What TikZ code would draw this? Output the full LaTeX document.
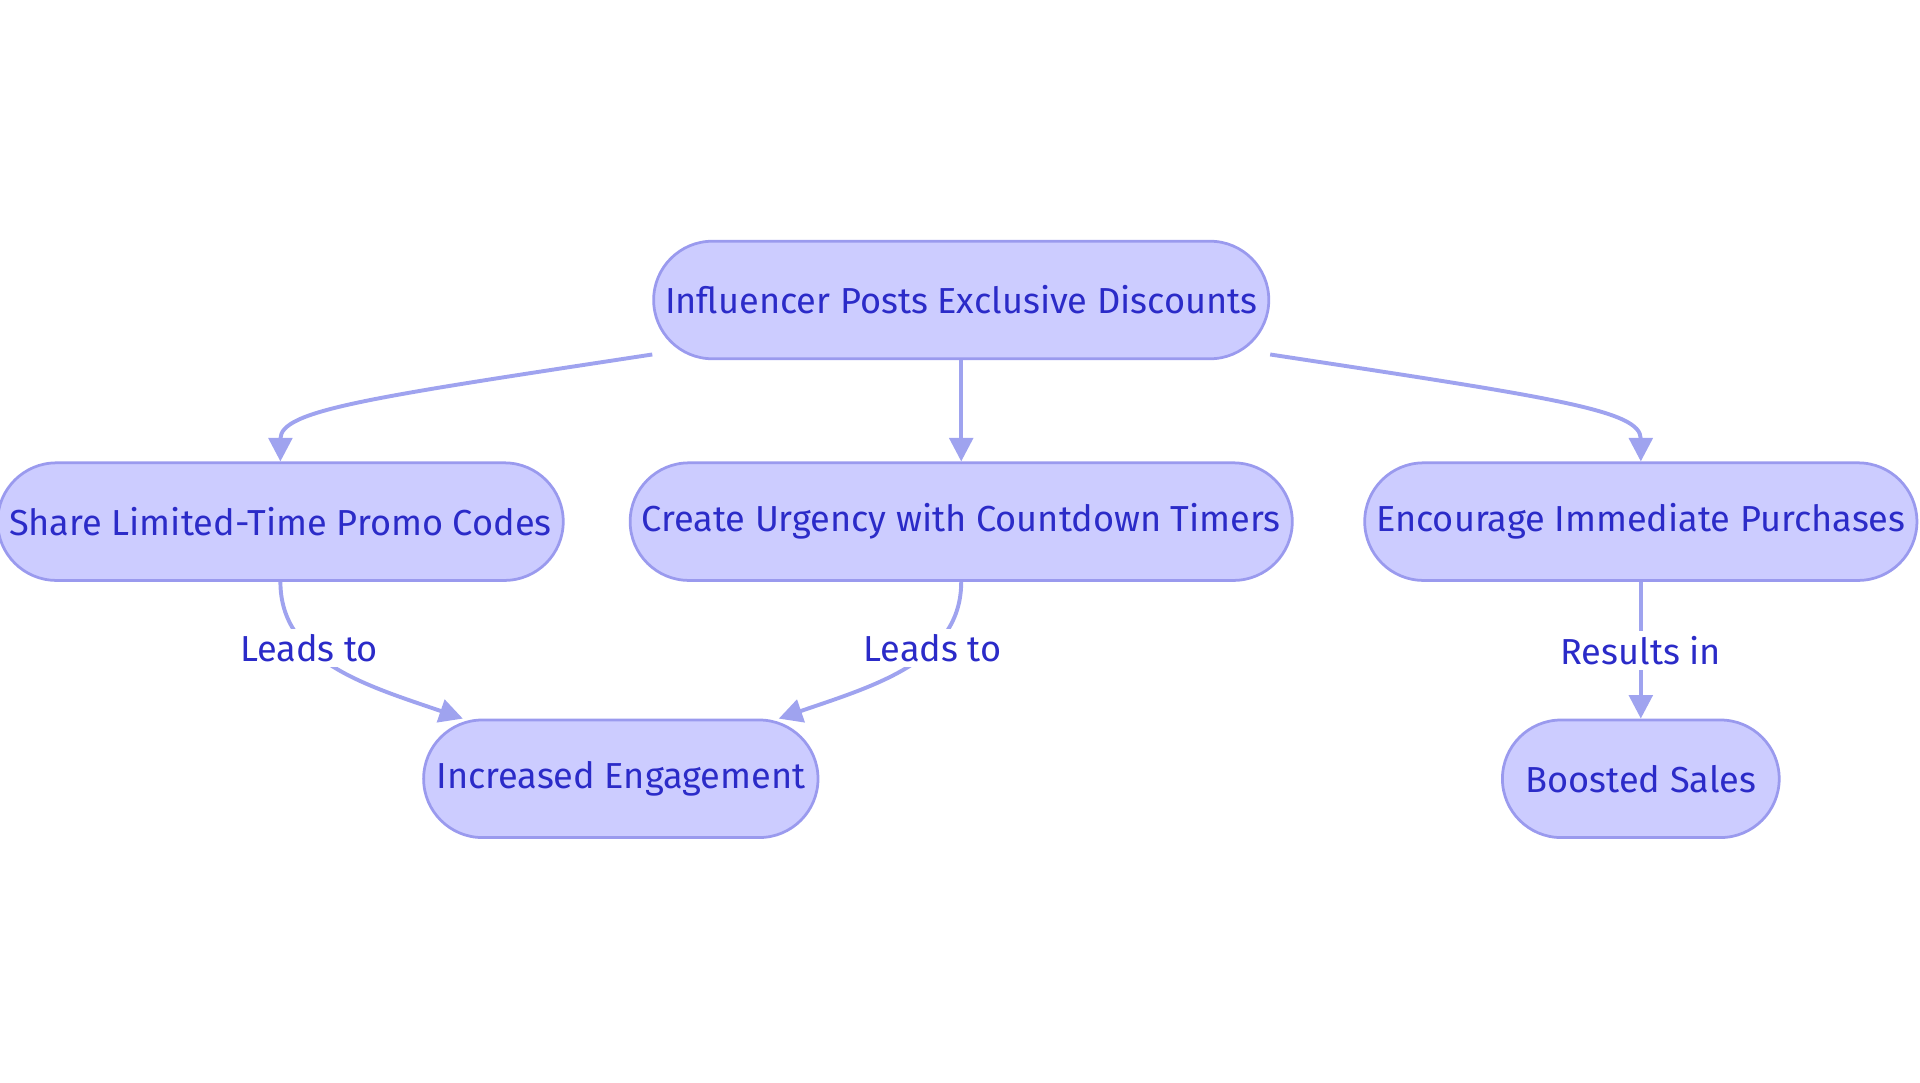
\documentclass[tikz,border=0pt]{standalone}
\usepackage{fontspec}
\setmainfont{Fira Sans}
\usetikzlibrary{positioning, arrows.meta}
\definecolor{boxfill}{HTML}{CCCCFF}
\definecolor{boxline}{HTML}{9A9AEE}
\definecolor{boxtext}{HTML}{2B2BC8}
\definecolor{linkline}{HTML}{9FA3EF}

\begin{document}
\begin{tikzpicture}
    [
        x=0.0125cm, y=-0.0125cm,
        step_node/.style={rectangle, rounded corners=0.6cm, draw=boxline, fill=boxfill, thick, minimum height=1.2cm, text=boxtext, font=\fontsize{10.5}{12}\selectfont},
        link/.style={-{Triangle[length=0.24cm, width=0.24cm]}, line width=0.4mm, color=linkline},
        link_label/.style={fill=white, text=boxtext, font=\fontsize{10.5}{12}\selectfont, inner sep=1.5pt},
    ]
        \useasboundingbox (0,0) rectangle (1568,884);
        \node[step_node, minimum width=5.85cm] (top) at (785,245) {Influencer Posts Exclusive Discounts} ;
        \node[step_node, minimum width=5.4cm] (share) at (229,426) {Share Limited-Time Promo Codes} ;
        \node[step_node, minimum width=6.375cm] (create) at (785,426) {Create Urgency with Countdown Timers} ;
        \node[step_node, minimum width=5.35cm] (encourage) at (1340,426) {Encourage Immediate Purchases} ;
        \node[step_node, minimum width=4.025cm] (engage) at (507,636) {Increased Engagement} ;
        \node[step_node, minimum width=2.825cm] (sales) at (1340,636) {Boosted Sales} ;
        \draw[link] (top.190) .. controls (300,325) and (229,335) .. (share.north) ;
        \draw[link] (top) -- (create) ;
        \draw[link] (top.-10) .. controls (1270,325) and (1340,335) .. (encourage.north) ;
        \draw[link] (share.south) .. controls (229,540) and (300,560) .. node[link_label, pos=0.35] {Leads to} (engage.north west -| 378,0) ;
        \draw[link] (create.south) .. controls (785,540) and (714,560) .. node[link_label, pos=0.35] {Leads to} (engage.north east -| 636,0) ;
        \draw[link] (encourage) -- node[link_label] {Results in} (sales) ;
    \end{tikzpicture}
\end{document}
